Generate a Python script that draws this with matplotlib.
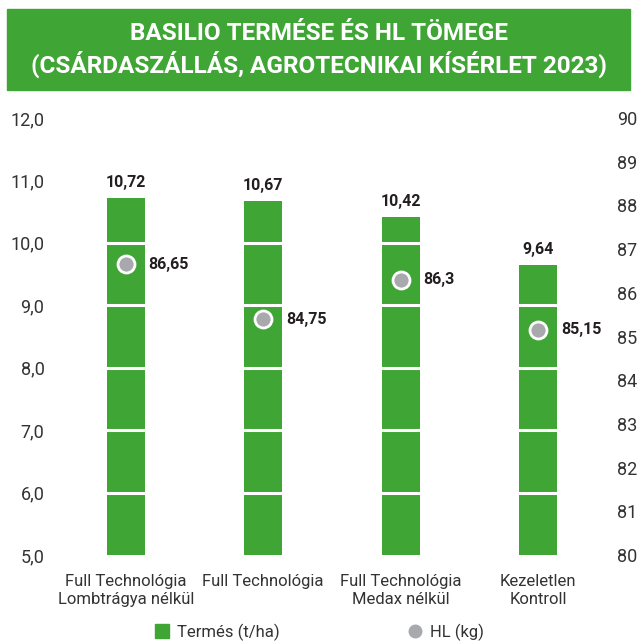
import matplotlib.pyplot as plt
from matplotlib.patches import Rectangle
from matplotlib.lines import Line2D

plt.rcParams['font.family'] = ['Liberation Sans Narrow', 'Roboto', 'DejaVu Sans']

categories = ["Full Technológia\nLombtrágya nélkül", "Full Technológia",
              "Full Technológia\nMedax nélkül", "Kezeletlen\nKontroll"]
termes = [10.72, 10.67, 10.42, 9.64]
# HL marker heights as drawn in the reference (second point sits above its label value)
hl = [86.65, 85.4, 86.3, 85.15]
termes_labels = ["10,72", "10,67", "10,42", "9,64"]
hl_labels = ["86,65", "84,75", "86,3", "85,15"]
left_ticks = [5, 6, 7, 8, 9, 10, 11, 12]
right_ticks = list(range(80, 91))

green = "#3FA535"
grey = "#A7A9AC"
txt = "#231F20"

fig = plt.figure(figsize=(6.38, 6.44), dpi=100)

# title banner
fig.patches.append(Rectangle((7/638, 1 - 90/644), 623/638, 81/644,
                             transform=fig.transFigure, color=green, zorder=0))
fig.text(0.5, 1 - 50/644, "BASILIO TERMÉSE ÉS HL TÖMEGE\n(CSÁRDASZÁLLÁS, AGROTECNIKAI KÍSÉRLET 2023)",
         ha="center", va="center", color="white", fontsize=17.5, fontweight="bold",
         linespacing=1.3)

ax = fig.add_axes([57/638, 89/644, 550/638, 437/644])
x = list(range(len(categories)))
ax.bar(x, termes, width=0.276, color=green, zorder=2)
ax.set_ylim(5, 12)
ax.set_xlim(-0.5, 3.5)
for v in left_ticks[1:-1]:
    ax.axhline(v, color="white", lw=2.2, zorder=3)
for xi, v, lab in zip(x, termes, termes_labels):
    ax.text(xi, v + 0.13, lab, ha="center", va="bottom", fontsize=11.5,
            fontweight="bold", color=txt)
ax.set_yticks(left_ticks)
ax.set_yticklabels([f"{v},0" for v in left_ticks])
ax.set_xticks(x)
ax.set_xticklabels(categories, linespacing=1.2)
ax.tick_params(axis="both", length=0, colors="#333333")
ax.tick_params(axis="x", labelsize=12, pad=14)
ax.tick_params(axis="y", labelsize=13, pad=9)
for s in ax.spines.values():
    s.set_visible(False)

ax2 = ax.twinx()
ax2.set_ylim(80, 90)
ax2.scatter(x, hl, s=150, color=grey, edgecolors="white", linewidths=2, zorder=5)
for xi, v, lab in zip(x, hl, hl_labels):
    ax2.text(xi + 0.165, v, lab, ha="left", va="center", fontsize=11.5,
             fontweight="bold", color=txt)
ax2.set_yticks(right_ticks)
ax2.tick_params(axis="y", length=0, labelsize=13, colors="#333333", pad=7)
for s in ax2.spines.values():
    s.set_visible(False)

handles = [Line2D([], [], marker="s", ls="", color=green, markersize=10),
           Line2D([], [], marker="o", ls="", color=grey, markersize=9)]
fig.legend(handles, ["Termés (t/ha)", "HL (kg)"], loc="center",
           bbox_to_anchor=(0.5, 1 - 632/644), ncol=2, frameon=False,
           fontsize=12, columnspacing=7.6, handlelength=1.0, handletextpad=0.4,
           labelcolor="#333333")

fig.savefig("out.png", dpi=100)
